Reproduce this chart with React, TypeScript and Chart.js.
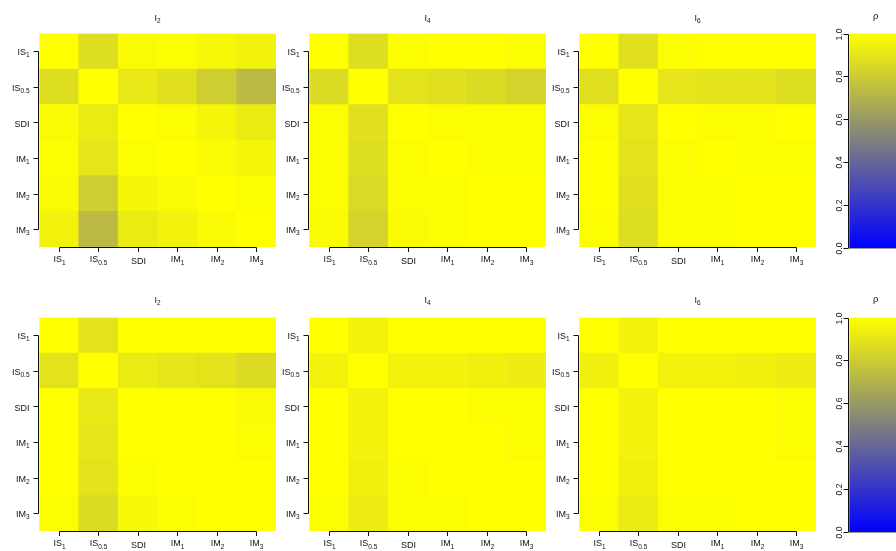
import React, { useEffect, useRef } from 'react';
import { Chart, registerables } from 'chart.js';

Chart.register(...registerables);

// ---------- data ----------
const varBase = ['IS', 'IS', 'SDI', 'IM', 'IM', 'IM'];
const varSub = ['1', '0.5', '', '1', '2', '3'];
const panelTitleSub = ['2', '4', '6'];
const rhoTicks = [0, 0.2, 0.4, 0.6, 0.8, 1.0];
const rhoTickLabels = ['0.0', '0.2', '0.4', '0.6', '0.8', '1.0'];

// correlation matrices, rows top -> bottom, columns left -> right
const topI2 = [
  [1.0, 0.87, 0.98, 0.99, 0.97, 0.95],
  [0.87, 1.0, 0.91, 0.88, 0.81, 0.73],
  [0.98, 0.92, 1.0, 0.99, 0.96, 0.92],
  [0.99, 0.9, 0.99, 1.0, 0.98, 0.96],
  [0.98, 0.81, 0.96, 0.98, 1.0, 0.99],
  [0.95, 0.73, 0.92, 0.95, 0.98, 1.0],
];
const topI4 = [
  [1.0, 0.87, 0.99, 1.0, 1.0, 0.99],
  [0.86, 1.0, 0.89, 0.88, 0.86, 0.83],
  [0.99, 0.88, 1.0, 0.99, 0.99, 0.99],
  [0.99, 0.87, 0.99, 1.0, 0.99, 0.99],
  [0.99, 0.85, 0.99, 0.99, 1.0, 1.0],
  [0.98, 0.83, 0.98, 0.99, 1.0, 1.0],
];
const topI6 = [
  [1.0, 0.88, 0.99, 1.0, 1.0, 1.0],
  [0.88, 1.0, 0.9, 0.89, 0.89, 0.87],
  [0.99, 0.9, 1.0, 0.99, 0.99, 1.0],
  [1.0, 0.89, 0.99, 1.0, 0.99, 0.99],
  [1.0, 0.88, 0.99, 0.99, 1.0, 1.0],
  [0.99, 0.87, 0.99, 0.99, 1.0, 1.0],
];
const bottomI2 = [
  [1.0, 0.89, 1.0, 1.0, 1.0, 1.0],
  [0.89, 1.0, 0.92, 0.9, 0.89, 0.86],
  [1.0, 0.91, 1.0, 1.0, 1.0, 0.98],
  [1.0, 0.9, 1.0, 1.0, 1.0, 0.99],
  [1.0, 0.89, 0.99, 1.0, 1.0, 1.0],
  [0.99, 0.86, 0.97, 0.99, 1.0, 1.0],
];
const bottomI4 = [
  [1.0, 0.95, 1.0, 1.0, 1.0, 1.0],
  [0.95, 1.0, 0.95, 0.95, 0.94, 0.93],
  [1.0, 0.95, 1.0, 1.0, 0.99, 0.99],
  [1.0, 0.95, 1.0, 1.0, 1.0, 0.99],
  [1.0, 0.94, 0.99, 1.0, 1.0, 1.0],
  [0.99, 0.93, 0.99, 0.99, 1.0, 1.0],
];
const bottomI6 = [
  [1.0, 0.95, 1.0, 1.0, 1.0, 1.0],
  [0.94, 1.0, 0.95, 0.95, 0.94, 0.93],
  [1.0, 0.95, 1.0, 1.0, 1.0, 0.99],
  [1.0, 0.95, 1.0, 1.0, 1.0, 0.99],
  [1.0, 0.94, 1.0, 1.0, 1.0, 1.0],
  [0.99, 0.92, 0.99, 0.99, 1.0, 1.0],
];

const matrices = [topI2, topI4, topI6, bottomI2, bottomI4, bottomI6];

// ---------- helpers ----------
const FONT = '"Liberation Sans", Arial, Helvetica, sans-serif';
const INK = '#111111';
const BASE_SIZE = 9;
const SUB_SIZE = 6.5;

function rhoColor(v: number): string {
  const blue = [0, 0, 255];
  const gray = [127, 127, 127];
  const yellow = [255, 255, 0];
  let a: number[], b: number[], t: number;
  if (v <= 0.5) { a = blue; b = gray; t = v / 0.5; } else { a = gray; b = yellow; t = (v - 0.5) / 0.5; }
  const c = a.map((ai, i) => Math.round(ai + (b[i] - ai) * t));
  return `rgb(${c[0]},${c[1]},${c[2]})`;
}

function drawSub(ctx: CanvasRenderingContext2D, base: string, sub: string, x: number, y: number,
  align: 'left' | 'center' | 'right', size = BASE_SIZE, subSize = SUB_SIZE, drop = 2.2) {
  ctx.font = `${size}px ${FONT}`;
  const wb = ctx.measureText(base).width;
  ctx.font = `${subSize}px ${FONT}`;
  const ws = sub ? ctx.measureText(sub).width : 0;
  const total = wb + ws;
  const x0 = align === 'left' ? x : align === 'center' ? x - total / 2 : x - total;
  ctx.textAlign = 'left';
  ctx.textBaseline = 'alphabetic';
  ctx.font = `${size}px ${FONT}`;
  ctx.fillText(base, x0, y);
  if (sub) {
    ctx.font = `${subSize}px ${FONT}`;
    ctx.fillText(sub, x0 + wb, y + drop);
  }
}

function makeHeatmap(canvas: HTMLCanvasElement, matrix: number[][], titleSub: string, titleY: number) {
  const n = matrix.length;
  const datasets: any[] = [];
  for (let r = n - 1; r >= 0; r--) {
    datasets.push({
      label: varBase[r] + varSub[r],
      data: matrix[r].map(() => 1),
      backgroundColor: matrix[r].map(rhoColor),
      borderWidth: 0,
      barPercentage: 1,
      categoryPercentage: 1,
    });
  }
  const axesPlugin = {
    id: 'rAxes',
    afterDraw(chart: any) {
      const { ctx, chartArea: a, scales } = chart;
      const x = scales.x, y = scales.y;
      ctx.save();
      ctx.strokeStyle = INK;
      ctx.fillStyle = INK;
      ctx.lineWidth = 1;
      // y axis (left)
      const ys = matrix.map((_, r) => Math.round(y.getPixelForValue(n - r - 0.5)) + 0.5);
      const ax = Math.round(a.left) - 0.5;
      ctx.beginPath();
      ctx.moveTo(ax, ys[0]);
      ctx.lineTo(ax, ys[n - 1]);
      ys.forEach((yy) => { ctx.moveTo(ax - 5, yy); ctx.lineTo(ax, yy); });
      ctx.stroke();
      ys.forEach((yy, r) => {
        drawSub(ctx, varBase[r], varSub[r], ax - 9, yy + (varSub[r] ? 3.6 : 4.4), 'right');
      });
      // x axis (bottom)
      const xs = matrix[0].map((_, c) => Math.round(x.getPixelForValue(c)) + 0.5);
      const by = Math.round(a.bottom) + 0.5;
      ctx.beginPath();
      ctx.moveTo(xs[0], by);
      ctx.lineTo(xs[xs.length - 1], by);
      xs.forEach((xx) => { ctx.moveTo(xx, by); ctx.lineTo(xx, by + 4.5); });
      ctx.stroke();
      xs.forEach((xx, c) => {
        drawSub(ctx, varBase[c], varSub[c], xx, a.bottom + (varSub[c] ? 15.3 : 17), 'center');
      });
      // title
      drawSub(ctx, 'I', titleSub, (a.left + a.right) / 2, titleY, 'center');
      ctx.restore();
    },
  };
  return new Chart(canvas, {
    type: 'bar',
    data: { labels: varBase.map((b, i) => b + varSub[i]), datasets },
    options: {
      responsive: false,
      animation: false,
      devicePixelRatio: 1,
      layout: { padding: { left: 39.3, right: 4, top: 33.5, bottom: 23 } },
      plugins: { legend: { display: false }, tooltip: { enabled: false } },
      scales: {
        x: { stacked: true, display: false },
        y: { stacked: true, display: false, min: 0, max: 6 },
      },
    },
    plugins: [axesPlugin],
  } as any);
}

function makeColorbar(canvas: HTMLCanvasElement, titleY: number) {
  const cbPlugin = {
    id: 'cbAxes',
    afterDraw(chart: any) {
      const { ctx, chartArea: a, scales } = chart;
      const y = scales.y;
      ctx.save();
      ctx.strokeStyle = INK;
      ctx.fillStyle = INK;
      ctx.lineWidth = 1;
      const ax = Math.round(a.left) - 0.5;
      const ys = rhoTicks.map((v) => Math.round(y.getPixelForValue(v)) + 0.5);
      ctx.beginPath();
      ctx.moveTo(ax, ys[0]);
      ctx.lineTo(ax, ys[ys.length - 1]);
      ys.forEach((yy) => { ctx.moveTo(ax - 5, yy); ctx.lineTo(ax, yy); });
      ctx.stroke();
      ctx.strokeStyle = '#9a9a9a';
      ctx.beginPath();
      ctx.moveTo(ax, ys[0]);
      ctx.lineTo(a.right, ys[0]);
      ctx.stroke();
      ctx.font = `8.5px ${FONT}`;
      ctx.textAlign = 'center';
      ctx.textBaseline = 'middle';
      ys.forEach((yy, i) => {
        ctx.save();
        ctx.translate(ax - 9, yy);
        ctx.rotate(-Math.PI / 2);
        ctx.fillText(rhoTickLabels[i], 0, 0);
        ctx.restore();
      });
      ctx.textBaseline = 'alphabetic';
      ctx.font = `9.5px ${FONT}`;
      ctx.fillText('ρ', (a.left + a.right) / 2, titleY);
      ctx.restore();
    },
  };
  return new Chart(canvas, {
    type: 'bar',
    data: {
      labels: ['ρ'],
      datasets: [{
        data: [1],
        backgroundColor: (c: any) => {
          const chart = c.chart;
          const a = chart.chartArea;
          if (!a) return '#ffff00';
          const g = chart.ctx.createLinearGradient(0, a.bottom, 0, a.top);
          g.addColorStop(0, rhoColor(0));
          g.addColorStop(0.25, rhoColor(0.25));
          g.addColorStop(0.5, rhoColor(0.5));
          g.addColorStop(0.75, rhoColor(0.75));
          g.addColorStop(1, rhoColor(1));
          return g;
        },
        borderWidth: 0,
        barPercentage: 1,
        categoryPercentage: 1,
      }],
    },
    options: {
      responsive: false,
      animation: false,
      devicePixelRatio: 1,
      layout: { padding: { left: 49.3, right: 8, top: 33.5, bottom: 22 } },
      plugins: { legend: { display: false }, tooltip: { enabled: false } },
      scales: {
        x: { display: false },
        y: { display: false, min: 0, max: 1 },
      },
    },
    plugins: [cbPlugin],
  } as any);
}

const ROW_TOPS = [0, 284];
const COL_LEFTS = [0, 270, 540];
const TITLE_Y = [20.5, 19];

export default function App() {
  const heatRefs = useRef<(HTMLCanvasElement | null)[]>([]);
  const cbRefs = useRef<(HTMLCanvasElement | null)[]>([]);

  useEffect(() => {
    const charts: Chart[] = [];
    matrices.forEach((m, i) => {
      const row = Math.floor(i / 3);
      const cv = heatRefs.current[i];
      if (cv) charts.push(makeHeatmap(cv, m, panelTitleSub[i % 3], TITLE_Y[row]));
    });
    ROW_TOPS.forEach((_, r) => {
      const cv = cbRefs.current[r];
      if (cv) charts.push(makeColorbar(cv, TITLE_Y[r] - 1.5));
    });
    return () => charts.forEach((c) => c.destroy());
  }, []);

  return (
    <div style={{ position: 'absolute', left: 0, top: 0, width: 896, height: 551, overflow: 'hidden', background: '#ffffff' }}>
      {matrices.map((_, i) => (
        <canvas
          key={'h' + i}
          ref={(el) => { heatRefs.current[i] = el; }}
          width={280}
          height={270}
          style={{ position: 'absolute', left: COL_LEFTS[i % 3], top: ROW_TOPS[Math.floor(i / 3)], width: 280, height: 270 }}
        />
      ))}
      {ROW_TOPS.map((t, r) => (
        <canvas
          key={'c' + r}
          ref={(el) => { cbRefs.current[r] = el; }}
          width={110}
          height={270}
          style={{ position: 'absolute', left: 800, top: t, width: 110, height: 270 }}
        />
      ))}
    </div>
  );
}
